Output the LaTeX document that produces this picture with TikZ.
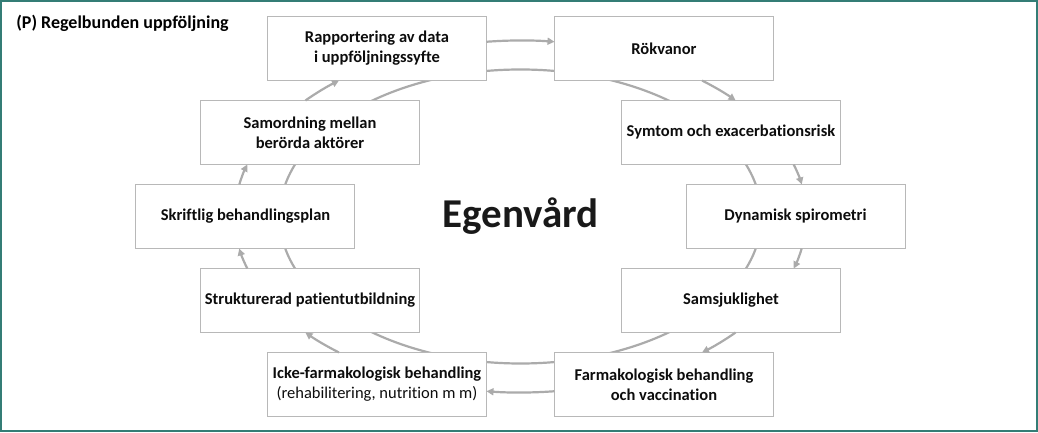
\documentclass[tikz,border=0pt]{standalone}
\usepackage{fontspec}
\setmainfont{Carlito}[Ligatures=NoCommon]
\usetikzlibrary{arrows.meta}
\definecolor{frameteal}{RGB}{52,125,118}
\begin{document}
\begin{tikzpicture}[x=1pt,y=1pt,line width=1pt,
	box/.style={draw=black!28,fill=white,minimum width=219pt,minimum height=64pt,inner sep=0pt,
		align=center,font=\fontsize{16.5}{20}\selectfont\bfseries,text=black!95},
	ring/.style={draw=black!33,line width=2.2pt},
	flow/.style={ring,-{Triangle[length=7pt,width=7pt]}}]
	\useasboundingbox (-520.5,-216.5) rectangle (517.5,216.5);
	\draw[frameteal,line width=2pt] (-519.5,-214.5) rectangle (516,215.5);
	\node[anchor=west,font=\fontsize{18}{22}\selectfont\bfseries] (title) at (-508,193.5) {(P) Regelbunden uppföljning};
	
	\draw[ring] (0,0) ellipse[x radius=241,y radius=147];
	
	\node[box] (rap) at (-143.5, 168) {Rapportering av data\\i uppföljningssyfte};
	\node[box] (rok) at ( 143.5, 168) {Rökvanor};
	\node[box] (sym) at ( 210.5,  84) {Symtom och exacerbationsrisk};
	\node[box] (dyn) at ( 275,     0) {Dynamisk spirometri};
	\node[box] (sms) at ( 210.5, -84) {Samsjuklighet};
	\node[box] (far) at ( 143.5,-168) {Farmakologisk behandling\\och vaccination};
	\node[box] (ick) at (-143.5,-168) {Icke-farmakologisk behandling\\\mdseries(rehabilitering, nutrition m m)};
	\node[box] (str) at (-210.5, -84) {Strukturerad patientutbildning};
	\node[box] (skr) at (-275,     0) {Skriftlig behandlingsplan};
	\node[box] (sam) at (-210.5,  84) {Samordning mellan\\berörda aktörer};
	
	\node[anchor=base,font=\fontsize{41}{48}\selectfont\bfseries,text=black!90] (egen) at (0,-11.5) {Egenvård};
	
	\foreach \a/\b in {96.83/83.17, 50.6/41.23, 17.19/10.48, -10.48/-17.19, -41.23/-50.6,
		-83.17/-96.83, -129.4/-138.77, -162.81/-169.52, 169.52/162.81, 138.77/129.4}
		\draw[flow] (\a:286pt and 176pt) arc[start angle=\a,end angle=\b,x radius=286,y radius=176];
\end{tikzpicture}
\end{document}
